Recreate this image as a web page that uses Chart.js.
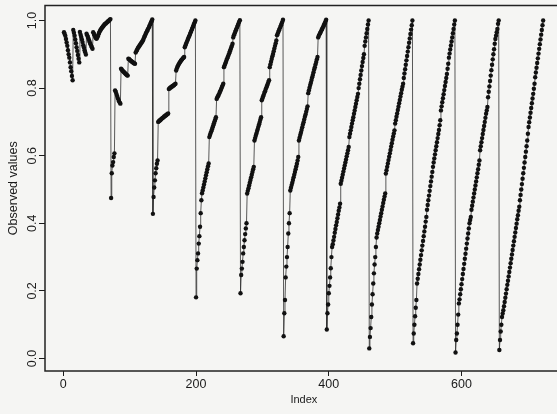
<!DOCTYPE html>
<html>
<head>
<meta charset="utf-8">
<script src="https://cdn.jsdelivr.net/npm/chart.js@4.4.1/dist/chart.umd.min.js"></script>
<style>
  html, body { margin: 0; padding: 0; background: #f5f5f3; overflow: hidden; }
  #wrap { width: 565px; height: 414px; }
</style>
</head>
<body>
<div id="wrap"><canvas id="obsChart" width="565" height="414"></canvas></div>
<script>
// observed values, one array per block of the index
const block1 = [0.965, 0.96, 0.955, 0.945, 0.935, 0.925, 0.912, 0.90, 0.89, 0.876, 0.862, 0.85, 0.836, 0.823,
  0.972, 0.964, 0.955, 0.944, 0.933, 0.921, 0.91, 0.898, 0.887, 0.876,
  0.966, 0.958, 0.951, 0.944, 0.936, 0.927, 0.92, 0.912, 0.906, 0.899,
  0.961, 0.956, 0.951, 0.946, 0.94, 0.935, 0.93, 0.925, 0.921, 0.916,
  0.965, 0.961, 0.956, 0.952, 0.948, 0.946, 0.949, 0.953, 0.959, 0.964, 0.968, 0.972, 0.975, 0.978,
  0.98, 0.983, 0.985, 0.988, 0.99, 0.991, 0.993, 0.995, 0.997, 0.998, 1.0, 1.002, 1.004];
const block2 = [0.475, 0.548, 0.571, 0.581, 0.596, 0.607,
  0.793, 0.789, 0.783, 0.777, 0.771, 0.766, 0.761, 0.757, 0.754,
  0.857, 0.855, 0.852, 0.85, 0.848, 0.846, 0.844, 0.842, 0.84, 0.838, 0.837,
  0.887, 0.886, 0.884, 0.882, 0.88, 0.879, 0.877, 0.876, 0.874, 0.873, 0.872,
  0.905, 0.909, 0.913, 0.917, 0.92, 0.923, 0.926, 0.929, 0.932, 0.935, 0.938, 0.941,
  0.946, 0.951, 0.955, 0.96, 0.964, 0.968, 0.972, 0.976, 0.98, 0.985, 0.989, 0.994, 0.998, 1.003];
const block3 = [0.428, 0.478, 0.506, 0.527, 0.548, 0.563, 0.576, 0.586,
  0.70, 0.702, 0.704, 0.705, 0.707, 0.709, 0.711, 0.712, 0.714, 0.716, 0.717, 0.719, 0.72, 0.722, 0.723, 0.725,
  0.797, 0.799, 0.801, 0.802, 0.804, 0.805, 0.806, 0.808, 0.809, 0.811, 0.813,
  0.852, 0.858, 0.863, 0.867, 0.871, 0.874, 0.877, 0.88, 0.883, 0.885, 0.888, 0.89, 0.892,
  0.921, 0.926, 0.931, 0.936, 0.941, 0.946, 0.951, 0.955, 0.96, 0.965, 0.97, 0.975, 0.98, 0.985, 0.99, 0.995, 1.0];
const block4 = [0.181, 0.266, 0.291, 0.311, 0.34, 0.362, 0.39, 0.43, 0.468,
  0.489, 0.497, 0.506, 0.515, 0.524, 0.533, 0.542, 0.551, 0.56, 0.569, 0.577,
  0.655, 0.661, 0.667, 0.672, 0.678, 0.684, 0.69, 0.696, 0.702, 0.708, 0.714,
  0.768, 0.772, 0.776, 0.78, 0.784, 0.789, 0.793, 0.798, 0.803, 0.808, 0.813,
  0.862, 0.867, 0.872, 0.877, 0.883, 0.888, 0.893, 0.898, 0.903, 0.909, 0.914, 0.92, 0.925, 0.931,
  0.95, 0.956, 0.961, 0.966, 0.971, 0.976, 0.981, 0.986, 0.991, 0.996, 1.001];
const block5 = [0.193, 0.247, 0.266, 0.286, 0.311, 0.33, 0.35, 0.368, 0.385, 0.40,
  0.488, 0.496, 0.504, 0.512, 0.52, 0.528, 0.536, 0.544, 0.552, 0.56, 0.567,
  0.645, 0.652, 0.659, 0.666, 0.673, 0.679, 0.686, 0.693, 0.70, 0.707, 0.714,
  0.764, 0.769, 0.775, 0.78, 0.786, 0.791, 0.797, 0.802, 0.807, 0.812, 0.818, 0.823,
  0.862, 0.87, 0.878, 0.886, 0.894, 0.901, 0.909, 0.917, 0.925, 0.933, 0.941,
  0.956, 0.961, 0.966, 0.971, 0.976, 0.981, 0.986, 0.991, 0.996, 1.002];
const block6 = [0.066, 0.134, 0.173, 0.24, 0.272, 0.30, 0.33, 0.37, 0.40, 0.43,
  0.497, 0.505, 0.513, 0.52, 0.528, 0.536, 0.544, 0.552, 0.56, 0.568, 0.576, 0.586, 0.596,
  0.645, 0.653, 0.661, 0.668, 0.676, 0.684, 0.692, 0.699, 0.707, 0.715, 0.722, 0.73, 0.738, 0.746,
  0.785, 0.793, 0.801, 0.809, 0.816, 0.824, 0.832, 0.839, 0.847, 0.855, 0.862, 0.87, 0.877, 0.885, 0.892,
  0.95, 0.955, 0.959, 0.963, 0.967, 0.971, 0.975, 0.979, 0.983, 0.988, 0.992, 0.997, 1.002];
const block7 = [0.086, 0.134, 0.16, 0.193, 0.215, 0.24, 0.267, 0.30, 0.33,
  0.338, 0.349, 0.36, 0.372, 0.383, 0.394, 0.404, 0.415, 0.426, 0.437, 0.447, 0.458,
  0.517, 0.526, 0.535, 0.544, 0.553, 0.562, 0.571, 0.58, 0.589, 0.598, 0.607, 0.616, 0.626,
  0.655, 0.665, 0.675, 0.685, 0.695, 0.705, 0.714, 0.724, 0.734, 0.744, 0.754, 0.764, 0.774, 0.783,
  0.80, 0.813, 0.826, 0.839, 0.852, 0.865, 0.877, 0.889, 0.90,
  0.925, 0.938, 0.95, 0.962, 0.975, 0.988, 1.0];
const block8 = [0.03, 0.064, 0.09, 0.123, 0.16, 0.19, 0.222, 0.252, 0.278, 0.30, 0.33, 0.358,
  0.37, 0.38, 0.39, 0.40, 0.41, 0.42, 0.43, 0.44, 0.45, 0.46, 0.47, 0.479, 0.488,
  0.547, 0.557, 0.567, 0.577, 0.587, 0.597, 0.607, 0.617, 0.627, 0.637, 0.647, 0.657, 0.666, 0.675,
  0.695, 0.705, 0.715, 0.725, 0.735, 0.745, 0.755, 0.765, 0.775, 0.785, 0.795, 0.804, 0.813,
  0.83, 0.843, 0.856, 0.869, 0.882, 0.895, 0.908, 0.921, 0.934, 0.947, 0.96, 0.973, 0.986, 1.0];
const block9 = [0.045, 0.074, 0.10, 0.125, 0.15, 0.173,
  0.222, 0.236, 0.25, 0.264, 0.278, 0.292, 0.306, 0.32, 0.334, 0.348, 0.362, 0.376, 0.39, 0.405, 0.419,
  0.44, 0.454, 0.468, 0.482, 0.496, 0.51, 0.524, 0.538, 0.552, 0.567,
  0.58, 0.592, 0.604, 0.616, 0.628, 0.64, 0.652, 0.664, 0.676, 0.69, 0.705,
  0.734, 0.746, 0.758, 0.77, 0.782, 0.794, 0.806, 0.818, 0.83, 0.842, 0.857, 0.872,
  0.89, 0.902, 0.914, 0.926, 0.938, 0.95, 0.962, 0.975, 0.988, 1.0];
const block10 = [0.018, 0.055, 0.074, 0.10, 0.13, 0.163,
  0.175, 0.19, 0.205, 0.22, 0.235, 0.25, 0.265, 0.28, 0.295, 0.31, 0.325, 0.34, 0.355, 0.37, 0.385, 0.40, 0.41, 0.419,
  0.44, 0.452, 0.464, 0.476, 0.488, 0.50, 0.512, 0.524, 0.536, 0.548, 0.56, 0.573, 0.586,
  0.616, 0.628, 0.64, 0.652, 0.664, 0.676, 0.688, 0.70, 0.712, 0.724, 0.734, 0.744,
  0.773, 0.789, 0.805, 0.821, 0.837, 0.853, 0.869, 0.885, 0.90, 0.915, 0.931,
  0.945, 0.955, 0.965, 0.975, 0.99, 1.0];
const block11 = [0.025, 0.055, 0.08, 0.10, 0.123, 0.133,
  0.143, 0.155, 0.167, 0.18, 0.192, 0.205, 0.218, 0.23, 0.243, 0.256, 0.269, 0.282, 0.295,
  0.308, 0.321, 0.334, 0.347, 0.36, 0.373, 0.386, 0.399, 0.412, 0.424, 0.437, 0.449,
  0.468, 0.484, 0.50, 0.516, 0.532, 0.548, 0.564, 0.58, 0.596, 0.612, 0.628, 0.645, 0.665,
  0.685, 0.699, 0.713, 0.727, 0.741, 0.755, 0.769, 0.783, 0.798, 0.813,
  0.832, 0.846, 0.86, 0.874, 0.888, 0.902, 0.916, 0.93, 0.944, 0.958, 0.972, 0.986, 1.0];

const xTicks = [0, 200, 400, 600];
const yTicks = [0.0, 0.2, 0.4, 0.6, 0.8, 1.0];

const observed = [].concat(block1, block2, block3, block4, block5, block6,
  block7, block8, block9, block10, block11);
const points = observed.map((v, i) => ({ x: i + 1, y: v }));

const FONT = "'Liberation Sans', Arial, Helvetica, sans-serif";
const INK = "#1a1a1a";

// plot frame (box around the plotting region)
const frame = {
  id: "frame",
  beforeDatasetsDraw(chart) {
    const { ctx, chartArea: a } = chart;
    ctx.save();
    ctx.strokeStyle = "#222";
    ctx.lineWidth = 1.5;
    ctx.strokeRect(a.left, a.top, a.right - a.left, a.bottom - a.top);
    ctx.restore();
  }
};

new Chart(document.getElementById("obsChart"), {
  type: "scatter",
  data: {
    datasets: [{
      data: points,
      showLine: true,
      borderColor: "rgba(40,40,40,0.85)",
      borderWidth: 0.9,
      pointRadius: 2.2,
      pointBackgroundColor: "#111",
      pointBorderWidth: 0,
      pointHoverRadius: 2.2
    }]
  },
  plugins: [frame],
  options: {
    responsive: false,
    animation: false,
    devicePixelRatio: 1,
    layout: { padding: { top: 5, right: 2, left: 0, bottom: 0 } },
    plugins: { legend: { display: false }, tooltip: { enabled: false } },
    scales: {
      x: {
        type: "linear",
        min: -27.6,
        max: 752.6,
        afterFit(s) { s.height = 43; },
        afterBuildTicks(s) { s.ticks = xTicks.map(v => ({ value: v })); },
        grid: { drawOnChartArea: false, drawTicks: true, tickLength: 5, tickColor: INK, tickWidth: 1 },
        border: { display: false },
        ticks: { color: INK, font: { family: FONT, size: 12.5 }, padding: 1, maxRotation: 0,
                 callback: v => String(v) },
        title: { display: true, text: "Index", color: INK,
                 font: { family: FONT, size: 11 }, padding: { top: 0, bottom: 7 } }
      },
      y: {
        type: "linear",
        min: -0.0369,
        max: 1.0443,
        afterFit(s) { s.width = 45; },
        afterBuildTicks(s) { s.ticks = yTicks.map(v => ({ value: v })); },
        grid: { drawOnChartArea: false, drawTicks: true, tickLength: 6, tickColor: INK, tickWidth: 1 },
        border: { display: false },
        ticks: { color: INK, font: { family: FONT, size: 12.5 }, padding: -2,
                 minRotation: 90, maxRotation: 90, crossAlign: "center",
                 callback: v => v.toFixed(1) },
        title: { display: true, text: "Observed values", color: INK,
                 font: { family: FONT, size: 12.5 }, padding: { top: 6, bottom: 0 } }
      }
    }
  }
});
</script>
</body>
</html>
